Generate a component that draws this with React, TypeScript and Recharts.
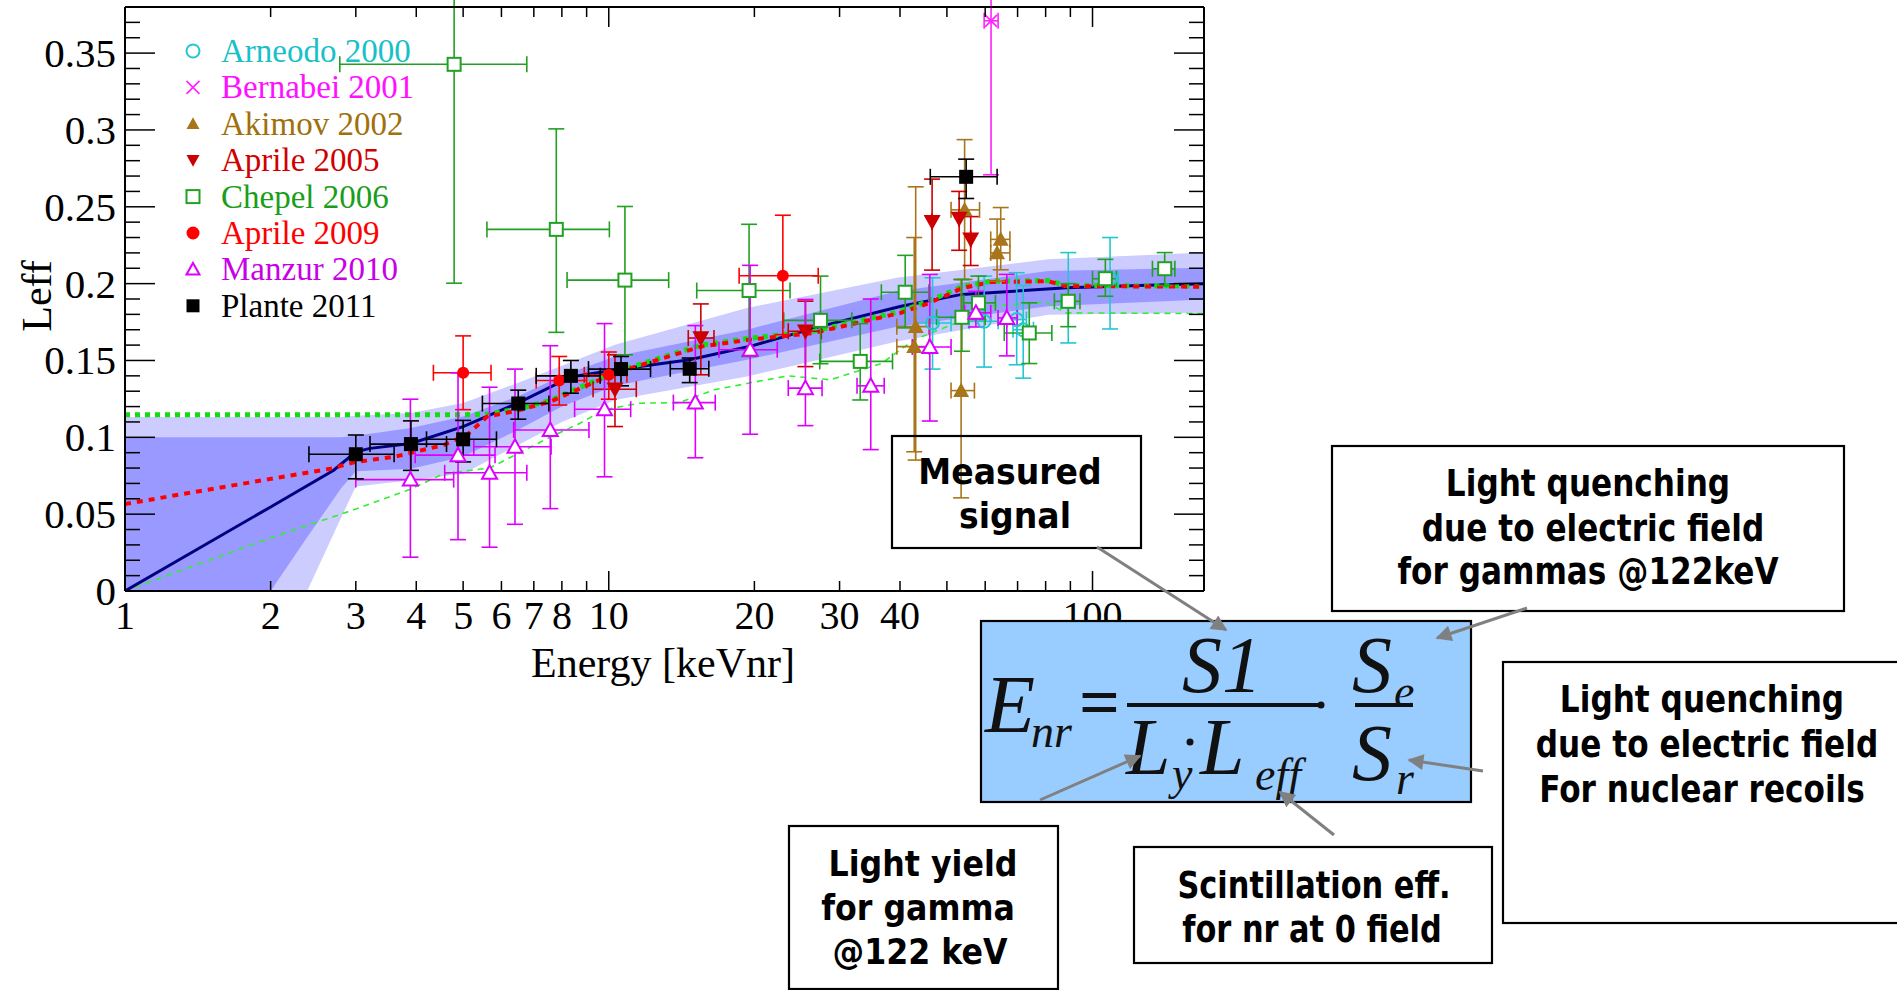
import React from 'react';
import { ComposedChart, XAxis, YAxis, Area, Line, Scatter, ErrorBar, Legend } from 'recharts';

const SERIF = '"Liberation Serif", "Times New Roman", serif';
const SANS = '"DejaVu Sans", "Open Sans", sans-serif';

// axis ticks
const xTickVals = [1, 2, 3, 4, 5, 6, 7, 8, 9, 10, 20, 30, 40, 50, 60, 70, 80, 90, 100];
const xTickLabels = [1, 2, 3, 4, 5, 6, 7, 8, 10, 20, 30, 40, 100];
const xMajor = [1, 10, 100];
const yTickLabels = ['0', '0.05', '0.1', '0.15', '0.2', '0.25', '0.3', '0.35'];
const yTickVals = Array.from({ length: 38 }, (_, i) => i / 100);

// global fit: 1 sigma (dark) and 2 sigma (light) bands
const bandE = [1, 2, 2.38, 2.8, 3, 3.9, 5, 6.5, 8, 10.3, 19.3, 39.4, 81, 170];
const band2Lo = [0, 0, 0, 0.048, 0.068, 0.072, 0.0763, 0.095, 0.11, 0.1243, 0.1396, 0.1624, 0.1798, 0.181];
const band1Lo = [0, 0, 0.035, 0.067, 0.078, 0.0796, 0.0873, 0.105, 0.12, 0.1335, 0.1505, 0.172, 0.1853, 0.1896];
const band1Hi = [0.1, 0.1, 0.1, 0.1, 0.101, 0.106, 0.1136, 0.1268, 0.14, 0.1526, 0.17, 0.195, 0.2082, 0.2103];
const band2Hi = [0.1132, 0.1132, 0.1132, 0.1132, 0.114, 0.1158, 0.1224, 0.1355, 0.1465, 0.1603, 0.1842, 0.2038, 0.2158, 0.2202];

// median fit (navy)
const fitE = [1, 2, 2.7, 3, 3.21, 3.9, 5, 6.5, 8.35, 10.6, 14.7, 19.6, 27.4, 40.2, 53.7, 68.8, 88.3, 130, 170];
const fitL = [0, 0.0547, 0.0786, 0.0906, 0.0928, 0.096, 0.107, 0.1224, 0.1393, 0.1444, 0.1505, 0.1592, 0.1722, 0.1853, 0.193, 0.1951, 0.1973, 0.199, 0.2];

// red dotted curve
const redE = [1, 1.6, 2.66, 3, 3.6, 4.56, 5.09, 5.6, 6.5, 7.57, 10.3, 15.5, 19.6, 26.5, 40.2, 46.1, 53.7, 61.6, 81, 88, 170];
const redL = [0.0566, 0.0677, 0.0796, 0.084, 0.0873, 0.095, 0.1015, 0.1134, 0.1175, 0.1232, 0.1418, 0.159, 0.1636, 0.1679, 0.181, 0.1875, 0.197, 0.201, 0.2016, 0.1984, 0.198];

// green thick dotted curve
const gdotE = [1, 5, 5.6, 6.5, 7.57, 10.3, 15.5, 19.6, 26.5, 40.2, 46.1, 53.7, 61.6, 81, 88, 170];
const gdotL = [0.1147, 0.1147, 0.115, 0.1185, 0.124, 0.1425, 0.16, 0.1645, 0.169, 0.182, 0.189, 0.198, 0.2015, 0.202, 0.1988, 0.1985];

// green thin dashed curve
const gdashE = [1, 2, 3, 3.9, 4.56, 5.67, 7.55, 8.7, 9.8, 11.6, 14, 16.5, 19.3, 23.5, 28.7, 36.6, 42.8, 54.4, 60, 80, 88, 170];
const gdashL = [0, 0.0346, 0.0533, 0.0664, 0.0763, 0.08, 0.1, 0.109, 0.118, 0.1222, 0.1226, 0.1309, 0.135, 0.14, 0.1374, 0.148, 0.1635, 0.1766, 0.185, 0.188, 0.181, 0.1805];

// measurements: E, E range, Leff, Leff range
const arnE = [46.7, 59.7, 69.7, 71.9, 89.1, 108.7];
const arnElo = [43.2, 55.6, 66.5, 68.5, 86, 104];
const arnEhi = [51, 63.8, 73, 75.5, 92, 113];
const arnL = [0.1744, 0.1755, 0.1766, 0.17, 0.1885, 0.2032];
const arnLlo = [0.1444, 0.1457, 0.1472, 0.1385, 0.1614, 0.1705];
const arnLhi = [0.2038, 0.2049, 0.2071, 0.1988, 0.2202, 0.23];

const berE = [61.7];
const berElo = [59.7];
const berEhi = [63.8];
const berL = [0.371];
const berLlo = [0.2708];
const berLhi = [0.47];

const akiE = [43.1, 42.8, 54.4, 53.5, 64.6, 63.5];
const akiElo = [39.4, 39.4, 51, 51, 61.6, 61.6];
const akiEhi = [45.9, 45.9, 58.4, 57, 67.5, 67.5];
const akiL = [0.172, 0.159, 0.248, 0.1304, 0.2288, 0.22];
const akiLlo = [0.0852, 0.0906, 0.2027, 0.0606, 0.209, 0.2016];
const akiLhi = [0.263, 0.23, 0.2937, 0.2027, 0.2495, 0.242];

const a05E = [10.3, 15.5, 25.5, 46.6, 53, 56];
const a05Elo = [9.28, 14.6, 23.5, 46.6, 53, 56];
const a05Ehi = [11.4, 16.5, 27.5, 46.6, 53, 56];
const a05L = [0.1313, 0.1646, 0.169, 0.2402, 0.2423, 0.2288];
const a05Llo = [0.107, 0.1407, 0.146, 0.2088, 0.2217, 0.2118];
const a05Lhi = [0.1537, 0.1868, 0.1886, 0.268, 0.26, 0.2436];

const chpE = [4.79, 7.79, 10.8, 19.5, 27.4, 33.1, 41, 53.7, 58.1, 74, 89.1, 106.3, 141];
const chpElo = [2.78, 5.6, 8.2, 15.2, 23, 27.3, 36.6, 47.6, 54.2, 65.7, 83.4, 100, 133];
const chpEhi = [6.77, 10.03, 13.3, 23.7, 31.8, 38.6, 45.9, 60, 63, 82.4, 94.2, 112, 148];
const chpL = [0.3427, 0.2353, 0.2023, 0.1955, 0.1761, 0.1494, 0.1944, 0.1781, 0.1875, 0.1679, 0.1885, 0.2032, 0.2097];
const chpLlo = [0.2003, 0.1683, 0.1537, 0.1526, 0.1479, 0.1243, 0.1712, 0.156, 0.1766, 0.148, 0.172, 0.1918, 0.1988];
const chpLhi = [0.485, 0.3007, 0.2502, 0.2386, 0.2049, 0.174, 0.2184, 0.2027, 0.2049, 0.1875, 0.2, 0.2158, 0.2202];

const a09E = [5.0, 7.9, 10.0, 22.9];
const a09Elo = [4.34, 7.08, 8.9, 18.6];
const a09Ehi = [5.71, 9.0, 10.9, 27.1];
const a09L = [0.142, 0.137, 0.1407, 0.2051];
const a09Llo = [0.118, 0.121, 0.1248, 0.1668];
const a09Lhi = [0.166, 0.1526, 0.1555, 0.2445];

const manE = [3.89, 4.88, 5.67, 6.4, 7.57, 9.8, 15.1, 19.6, 25.5, 34.8, 46.1, 57.4, 66.5];
const manElo = [3.0, 3.98, 4.58, 5.26, 6.36, 8.5, 13.6, 16.9, 23.5, 32.6, 42.4, 54.4, 63.8];
const manEhi = [4.78, 5.82, 6.77, 7.6, 9.1, 11.1, 16.6, 22.3, 27.6, 37.1, 51, 61.6, 69.9];
const manL = [0.0725, 0.0884, 0.0769, 0.0939, 0.1048, 0.1183, 0.1226, 0.157, 0.132, 0.1335, 0.1588, 0.181, 0.1777];
const manLlo = [0.022, 0.0334, 0.0285, 0.0434, 0.0536, 0.0743, 0.0867, 0.102, 0.1076, 0.092, 0.1106, 0.1718, 0.153];
const manLhi = [0.1248, 0.142, 0.1326, 0.1444, 0.1596, 0.174, 0.1727, 0.2119, 0.1897, 0.19, 0.206, 0.195, 0.206];

const plaE = [3.0, 3.9, 5.0, 6.5, 8.35, 10.6, 14.7, 54.8];
const plaElo = [2.4, 3.21, 4.2, 5.48, 7.08, 9.08, 13.4, 46.2];
const plaEhi = [3.6, 4.62, 5.86, 7.52, 9.6, 12.2, 16.1, 63.5];
const plaL = [0.089, 0.0956, 0.0987, 0.122, 0.14, 0.1444, 0.1446, 0.2695];
const plaLlo = [0.073, 0.0785, 0.084, 0.1118, 0.1287, 0.1335, 0.1356, 0.2554];
const plaLhi = [0.1015, 0.1107, 0.111, 0.1307, 0.15, 0.1526, 0.1516, 0.281];

type Kind = 'ocircle' | 'xcross' | 'tri' | 'tridown' | 'osquare' | 'dot' | 'otri' | 'square';

const rows = (E: number[], Elo: number[], Ehi: number[], L: number[], Llo: number[], Lhi: number[]) =>
  E.map((e, i) => ({ E: e, L: L[i], ex: [e - Elo[i], Ehi[i] - e], ey: [L[i] - Llo[i], Lhi[i] - L[i]] }));

const line = (E: number[], L: number[]) => E.map((e, i) => ({ E: e, L: L[i] }));

const bandRows = bandE.map((e, i) => ({ E: e, b2: [band2Lo[i], band2Hi[i]], b1: [band1Lo[i], band1Hi[i]] }));

const series = [
  { name: 'Arneodo 2000', color: '#22c8d0', text: '#18c0c8', kind: 'ocircle' as Kind, size: 13, data: rows(arnE, arnElo, arnEhi, arnL, arnLlo, arnLhi) },
  { name: 'Bernabei 2001', color: '#ff22ff', text: '#ff10ff', kind: 'xcross' as Kind, size: 12, data: rows(berE, berElo, berEhi, berL, berLlo, berLhi) },
  { name: 'Akimov 2002', color: '#a8751b', text: '#a0700a', kind: 'tri' as Kind, size: 16, data: rows(akiE, akiElo, akiEhi, akiL, akiLlo, akiLhi) },
  { name: 'Aprile 2005', color: '#cc0000', text: '#d00000', kind: 'tridown' as Kind, size: 17, data: rows(a05E, a05Elo, a05Ehi, a05L, a05Llo, a05Lhi) },
  { name: 'Chepel 2006', color: '#22a022', text: '#1a9e1a', kind: 'osquare' as Kind, size: 13, data: rows(chpE, chpElo, chpEhi, chpL, chpLlo, chpLhi) },
  { name: 'Aprile 2009', color: '#ff0000', text: '#ff0000', kind: 'dot' as Kind, size: 12, data: rows(a09E, a09Elo, a09Ehi, a09L, a09Llo, a09Lhi) },
  { name: 'Manzur 2010', color: '#dd00ff', text: '#c800e8', kind: 'otri' as Kind, size: 15, data: rows(manE, manElo, manEhi, manL, manLlo, manLhi) },
  { name: 'Plante 2011', color: '#000000', text: '#000000', kind: 'square' as Kind, size: 14, data: rows(plaE, plaElo, plaEhi, plaL, plaLlo, plaLhi) },
];

function Mark({ kind, cx, cy, color, s }: { kind: Kind; cx: number; cy: number; color: string; s: number }) {
  const h = s / 2;
  switch (kind) {
    case 'ocircle':
      return <circle cx={cx} cy={cy} r={h} fill="none" stroke={color} strokeWidth={2} />;
    case 'xcross':
      return <path d={`M${cx - h},${cy - h}L${cx + h},${cy + h}M${cx - h},${cy + h}L${cx + h},${cy - h}`} stroke={color} strokeWidth={1.6} fill="none" />;
    case 'tri':
      return <path d={`M${cx},${cy - h}L${cx + h},${cy + h * 0.8}L${cx - h},${cy + h * 0.8}Z`} fill={color} />;
    case 'tridown':
      return <path d={`M${cx},${cy + h}L${cx + h},${cy - h * 0.8}L${cx - h},${cy - h * 0.8}Z`} fill={color} />;
    case 'osquare':
      return <rect x={cx - h} y={cy - h} width={s} height={s} fill="#fff" stroke={color} strokeWidth={2} />;
    case 'dot':
      return <circle cx={cx} cy={cy} r={h} fill={color} />;
    case 'otri':
      return <path d={`M${cx},${cy - h}L${cx + h},${cy + h * 0.8}L${cx - h},${cy + h * 0.8}Z`} fill="#fff" stroke={color} strokeWidth={2} />;
    default:
      return <rect x={cx - h} y={cy - h} width={s} height={s} fill={color} />;
  }
}

const isXMajor = (v: number) => xMajor.includes(v);

function BottomTick(p: any) {
  const v = p.payload.value;
  return (
    <g>
      <line x1={p.x} y1={p.y} x2={p.x} y2={p.y - (isXMajor(v) ? 20 : 10)} stroke="#000" strokeWidth={1.5} />
      {xTickLabels.includes(v) && (
        <text x={p.x} y={p.y + 38} textAnchor="middle" fontSize={40} fontFamily={SERIF} fill="#000">{v}</text>
      )}
    </g>
  );
}

function TopTick(p: any) {
  const v = p.payload.value;
  return <line x1={p.x} y1={p.y} x2={p.x} y2={p.y + (isXMajor(v) ? 20 : 10)} stroke="#000" strokeWidth={1.5} />;
}

function LeftTick(p: any) {
  const k = Math.round(p.payload.value * 100);
  const major = k % 5 === 0;
  return (
    <g>
      <line x1={p.x} y1={p.y} x2={p.x + (major ? 30 : 15)} y2={p.y} stroke="#000" strokeWidth={1.5} />
      {major && (
        <text x={p.x - 9} y={p.y + 14} textAnchor="end" fontSize={41} fontFamily={SERIF} fill="#000">{yTickLabels[k / 5]}</text>
      )}
    </g>
  );
}

function RightTick(p: any) {
  const k = Math.round(p.payload.value * 100);
  return <line x1={p.x} y1={p.y} x2={p.x - (k % 5 === 0 ? 30 : 15)} y2={p.y} stroke="#000" strokeWidth={1.5} />;
}

function LegendBox() {
  return (
    <svg width={260} height={300} style={{ display: 'block' }}>
      {series.map((s, i) => {
        const cy = 21 + i * 36.4;
        return (
          <g key={s.name}>
            <Mark kind={s.kind} cx={18} cy={cy} color={s.color} s={13} />
            <text x={46} y={cy + 11} fontSize={33} fontFamily={SERIF} fill={s.text}>{s.name}</text>
          </g>
        );
      })}
    </svg>
  );
}

// text box: each line is [text, centre x, baseline y]; sx squeezes the glyphs horizontally
function Box({ x, y, w, h, lines, font, sx }: { x: number; y: number; w: number; h: number; lines: [string, number, number][]; font: number; sx: number }) {
  return (
    <g>
      <rect x={x} y={y} width={w} height={h} fill="none" stroke="#000" strokeWidth={2.2} />
      {lines.map(([t, cx, by]) => (
        <text key={t} transform={`translate(${cx},${by}) scale(${sx},1)`} textAnchor="middle" fontSize={font} fontWeight="bold" fontFamily={SANS} fill="#000">{t}</text>
      ))}
    </g>
  );
}

function Overlay() {
  const arrows: [number, number, number, number][] = [
    [1097, 547, 1226, 630],
    [1527, 608, 1437, 638],
    [1483, 771, 1409, 760],
    [1040, 800, 1140, 756],
    [1334, 835, 1280, 792],
  ];
  const it = { fontFamily: SERIF, fontStyle: 'italic' as const, fill: '#111' };
  return (
    <svg width={1897} height={990} style={{ position: 'absolute', left: 0, top: 0, pointerEvents: 'none' }}>
      <defs>
        <marker id="ah" viewBox="0 0 10 10" refX="9" refY="5" markerWidth="20" markerHeight="16" markerUnits="userSpaceOnUse" orient="auto">
          <path d="M0,0 L10,5 L0,10 z" fill="#808080" />
        </marker>
      </defs>
      <text x={663} y={677} textAnchor="middle" fontSize={42} fontFamily={SERIF} fill="#000">Energy [keVnr]</text>
      <text transform="translate(51,296) rotate(-90)" textAnchor="middle" fontSize={42} fontFamily={SERIF} fill="#000">Leff</text>

      <Box x={892} y={436} w={249} h={112} font={36} sx={0.92} lines={[['Measured', 1010, 484], ['signal', 1015, 528]]} />
      <Box x={1332} y={446} w={512} h={165} font={38} sx={0.82} lines={[['Light quenching', 1588, 496], ['due to electric field', 1593, 541], ['for gammas @122keV', 1588, 584]]} />
      <Box x={1503} y={662} w={400} h={261} font={38} sx={0.82} lines={[['Light quenching', 1702, 712], ['due to electric field', 1707, 757], ['For nuclear recoils', 1702, 802]]} />
      <Box x={789} y={826} w={269} h={163} font={36} sx={0.88} lines={[['Light yield', 923, 876], ['for gamma', 918, 920], ['@122 keV', 920, 964]]} />
      <Box x={1134} y={847} w={358} h={116} font={38} sx={0.8} lines={[['Scintillation eff.', 1314, 898], ['for nr at 0 field', 1312, 942]]} />

      <rect x={981} y={621} width={490} height={181} fill="#99ccff" stroke="#000" strokeWidth={2.2} />
      <text x={985} y={732} fontSize={82} {...it}>E</text>
      <text x={1031} y={747} fontSize={46} {...it}>nr</text>
      <text x={1079} y={726} fontSize={72} fontWeight="bold" fontFamily={SERIF} fill="#111">=</text>
      <line x1={1127} y1={705} x2={1318} y2={705} stroke="#111" strokeWidth={4} />
      <text x={1222} y={692} textAnchor="middle" fontSize={80} {...it}>S1</text>
      <text x={1126} y={774} fontSize={80} {...it}>L</text>
      <text x={1172} y={789} fontSize={46} {...it}>y</text>
      <circle cx={1190} cy={742} r={3.5} fill="#111" />
      <text x={1200} y={774} fontSize={80} {...it}>L</text>
      <text x={1255} y={790} fontSize={46} {...it}>eff</text>
      <circle cx={1321} cy={705} r={3.5} fill="#111" />
      <line x1={1355} y1={705} x2={1413} y2={705} stroke="#111" strokeWidth={4} />
      <text x={1352} y={692} fontSize={80} {...it}>S</text>
      <text x={1394} y={707} fontSize={46} {...it}>e</text>
      <text x={1352} y={780} fontSize={80} {...it}>S</text>
      <text x={1396} y={794} fontSize={46} {...it}>r</text>

      {arrows.map(([x1, y1, x2, y2], i) => (
        <line key={i} x1={x1} y1={y1} x2={x2} y2={y2} stroke="#808080" strokeWidth={3} markerEnd="url(#ah)" />
      ))}
    </svg>
  );
}

export default function App() {
  return (
    <div style={{ position: 'absolute', left: 0, top: 0, width: 1897, height: 990, background: '#fff', overflow: 'hidden' }}>
      <ComposedChart width={1897} height={990} data={bandRows} margin={{ top: 6, right: 692, bottom: 349, left: 0 }}>
        <XAxis dataKey="E" type="number" scale="log" domain={[1, 170]} allowDataOverflow ticks={xTickVals} interval={0}
          tick={<BottomTick />} tickSize={0} tickMargin={0} tickLine={false} height={50}
          axisLine={{ stroke: '#000', strokeWidth: 2 }} />
        <XAxis xAxisId="top" orientation="top" dataKey="E" type="number" scale="log" domain={[1, 170]} allowDataOverflow
          ticks={xTickVals} interval={0} tick={<TopTick />} tickSize={0} tickMargin={0} tickLine={false} height={1}
          axisLine={{ stroke: '#000', strokeWidth: 2 }} />
        <YAxis type="number" domain={[0, 0.38]} allowDataOverflow ticks={yTickVals} interval={0} tick={<LeftTick />}
          tickSize={0} tickMargin={0} tickLine={false} width={125} axisLine={{ stroke: '#000', strokeWidth: 2 }} />
        <YAxis yAxisId="right" orientation="right" type="number" domain={[0, 0.38]} allowDataOverflow ticks={yTickVals}
          interval={0} tick={<RightTick />} tickSize={0} tickMargin={0} tickLine={false} width={1}
          axisLine={{ stroke: '#000', strokeWidth: 2 }} />

        <Area dataKey="b2" type="linear" stroke="none" fill="#ccccff" fillOpacity={1} isAnimationActive={false} dot={false} activeDot={false} />
        <Area dataKey="b1" type="linear" stroke="none" fill="#9999ff" fillOpacity={1} isAnimationActive={false} dot={false} activeDot={false} />
        <Line data={line(gdashE, gdashL)} dataKey="L" type="linear" stroke="#33ee33" strokeWidth={1.6} strokeDasharray="6 5" dot={false} activeDot={false} isAnimationActive={false} />
        <Line data={line(fitE, fitL)} dataKey="L" type="linear" stroke="#000080" strokeWidth={3} dot={false} activeDot={false} isAnimationActive={false} />
        <Line data={line(gdotE, gdotL)} dataKey="L" type="linear" stroke="#11dd11" strokeWidth={5} strokeDasharray="5 5" dot={false} activeDot={false} isAnimationActive={false} />
        <Line data={line(redE, redL)} dataKey="L" type="linear" stroke="#ff0000" strokeWidth={4} strokeDasharray="6 6" dot={false} activeDot={false} isAnimationActive={false} />

        {series.map((s) => (
          <Scatter key={s.name} name={s.name} data={s.data} dataKey="L" isAnimationActive={false}
            shape={(p: any) => <Mark kind={s.kind} cx={p.cx} cy={p.cy} color={s.color} s={s.size} />}>
            <ErrorBar dataKey="ey" direction="y" width={8} stroke={s.color} strokeWidth={1.6} />
            <ErrorBar dataKey="ex" direction="x" width={8} stroke={s.color} strokeWidth={1.6} />
          </Scatter>
        ))}

        <Legend layout="horizontal" verticalAlign="middle" align="center" content={() => <LegendBox />}
          wrapperStyle={{ left: 175, top: 30, width: 260, height: 300 }} />
      </ComposedChart>
      <Overlay />
    </div>
  );
}
